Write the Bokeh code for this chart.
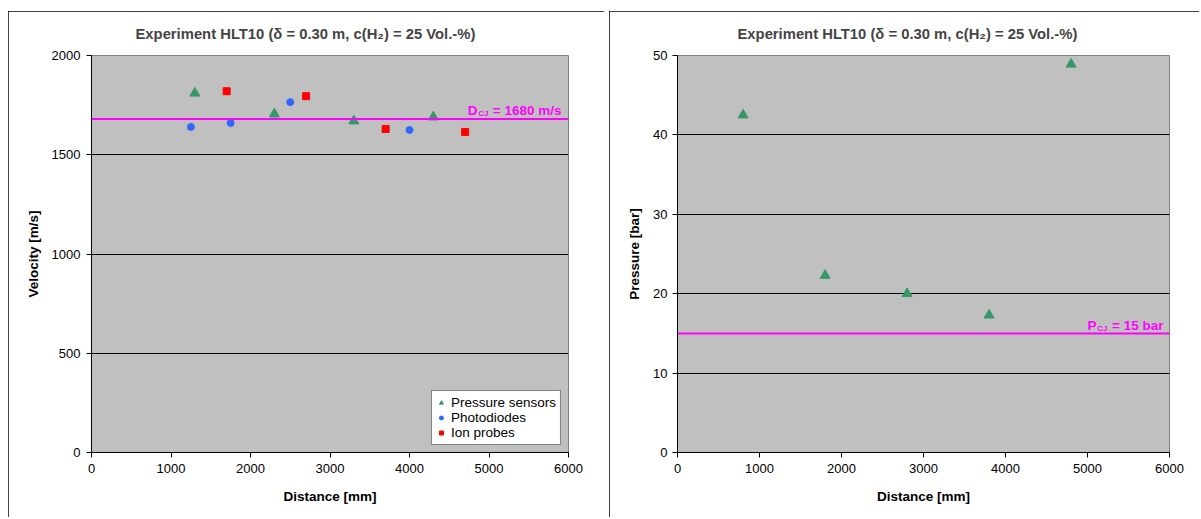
from bokeh.plotting import figure
from bokeh.models import Span, Label, Legend, LegendItem, FixedTicker, Range1d
from bokeh.layouts import row
from bokeh.embed import file_html
from bokeh.resources import INLINE

# ---------------- data ----------------
title_text = "Experiment HLT10 (δ = 0.30 m, c(H₂) = 25 Vol.-%)"
x_label = "Distance [mm]"
x_ticks = [0, 1000, 2000, 3000, 4000, 5000, 6000]

vel_label = "Velocity [m/s]"
vel_ticks = [0, 500, 1000, 1500, 2000]
ps_dist = [1300, 2300, 3300, 4300]
ps_vel = [1810, 1705, 1670, 1690]
pd_dist = [1250, 1750, 2500, 4000]
pd_vel = [1640, 1660, 1765, 1625]
ip_dist = [1700, 2700, 3700, 4700]
ip_vel = [1820, 1795, 1630, 1615]
d_cj = 1680

pres_label = "Pressure [bar]"
pres_ticks = [0, 10, 20, 30, 40, 50]
p_dist = [800, 1800, 2800, 3800, 4800]
p_pres = [42.5, 22.3, 20.0, 17.3, 48.9]
p_cj = 15

series_names = ["Pressure sensors", "Photodiodes", "Ion probes"]

# ---------------- style ----------------
FONT = "Liberation Sans"
GREEN = "#339966"
BLUE = "#3366FF"
RED = "#FF0000"
MAGENTA = "#FF00FF"
H = 507
TOP = 44
FRAME_H = 397


def make_fig(width, yticks, ylabel, bl, br, title_offset, lab_standoff, clip):
    p = figure(width=width, height=H,
               x_range=Range1d(x_ticks[0], x_ticks[-1]),
               y_range=Range1d(yticks[0], yticks[-1]),
               output_backend="svg", toolbar_location=None,
               min_border_left=bl, min_border_right=br,
               min_border_top=TOP, min_border_bottom=H - TOP - FRAME_H)
    p.styles = {"outline": "1px solid black", "outline-offset": "-1px",
                "clip-path": clip}
    p.background_fill_color = "#C0C0C0"
    p.border_fill_color = "white"
    p.outline_line_color = "#808080"
    p.outline_line_width = 1

    p.title.text = title_text
    p.title.text_font = FONT
    p.title.text_font_size = "14.8px"
    p.title.text_font_style = "bold"
    p.title.align = "left"
    p.title.vertical_align = "middle"
    p.title.offset = title_offset
    p.title.standoff = 26

    p.xgrid.visible = False
    p.ygrid.ticker = FixedTicker(ticks=yticks[1:-1])
    p.ygrid.grid_line_color = "black"
    p.ygrid.grid_line_width = 1

    p.xaxis.ticker = FixedTicker(ticks=x_ticks)
    p.yaxis.ticker = FixedTicker(ticks=yticks)
    p.xaxis.axis_label = x_label
    p.yaxis.axis_label = ylabel
    for ax in (p.xaxis[0], p.yaxis[0]):
        ax.axis_line_color = "black"
        ax.major_tick_line_color = "black"
        ax.major_tick_in = 0
        ax.major_tick_out = 5
        ax.minor_tick_line_color = None
        ax.major_label_text_font = FONT
        ax.major_label_text_font_size = "13px"
        ax.major_label_text_color = "black"
        ax.axis_label_text_font = FONT
        ax.axis_label_text_font_size = "13.5px"
        ax.axis_label_text_font_style = "bold"
        ax.axis_label_text_color = "black"
    p.yaxis.major_label_standoff = lab_standoff
    p.xaxis.major_label_standoff = 6
    p.yaxis.axis_label_standoff = 8
    p.xaxis.axis_label_standoff = 13
    return p


def cj_labels(p, yval, main_text, main_off, sub_off, letter_off, yoff, letter):
    common = dict(x=x_ticks[-1], y=yval, text_align="right",
                  text_baseline="alphabetic", text_font=FONT,
                  text_font_style="bold", text_color=MAGENTA)
    p.add_layout(Label(text=main_text, x_offset=main_off, y_offset=yoff,
                       text_font_size="13.5px", **common))
    p.add_layout(Label(text="CJ", x_offset=sub_off, y_offset=yoff - 3,
                       text_font_size="8px", **common))
    p.add_layout(Label(text=letter, x_offset=letter_off, y_offset=yoff,
                       text_font_size="13.5px", **common))


# ---------------- left: velocity ----------------
p1 = make_fig(596, vel_ticks, vel_label, 83, 36, 44, 6, "inset(0 0 1px 0)")
r_ps = p1.scatter(ps_dist, ps_vel, marker="triangle", size=10,
                  fill_color=GREEN, line_color=GREEN)
r_pd = p1.scatter(pd_dist, pd_vel, marker="circle", size=7,
                  fill_color=BLUE, line_color=BLUE)
r_ip = p1.scatter(ip_dist, ip_vel, marker="square", size=7,
                  fill_color=RED, line_color=RED)
p1.add_layout(Span(location=d_cj, dimension="width",
                   line_color=MAGENTA, line_width=2))
cj_labels(p1, d_cj, f"= {d_cj} m/s", -7, -80, -91, 9, "D")

legend = Legend(items=[LegendItem(label=series_names[0], renderers=[r_ps]),
                       LegendItem(label=series_names[1], renderers=[r_pd]),
                       LegendItem(label=series_names[2], renderers=[r_ip])],
                location="bottom_right")
legend.margin = 7
legend.padding = 4
legend.spacing = 0
legend.label_height = 15
legend.glyph_height = 15
legend.glyph_width = 10
legend.label_standoff = 5
legend.label_text_font = FONT
legend.label_text_font_size = "13.5px"
legend.label_text_color = "black"
legend.border_line_color = "black"
legend.border_line_width = 1
legend.background_fill_color = "white"
legend.background_fill_alpha = 1
p1.add_layout(legend)

# ---------------- right: pressure ----------------
p2 = make_fig(591, pres_ticks, pres_label, 68, 31, 60, 5, "inset(0 1px 1px 0)")
p2.scatter(p_dist, p_pres, marker="triangle", size=10,
           fill_color=GREEN, line_color=GREEN)
p2.add_layout(Span(location=p_cj, dimension="width",
                   line_color=MAGENTA, line_width=2))
cj_labels(p2, p_cj, f"= {p_cj} bar", -6, -62, -73, 8, "P")

layout = row(p1, p2, spacing=5, margin=(11, 0, 0, 8))
open("out.html", "w").write(file_html(layout, INLINE))
